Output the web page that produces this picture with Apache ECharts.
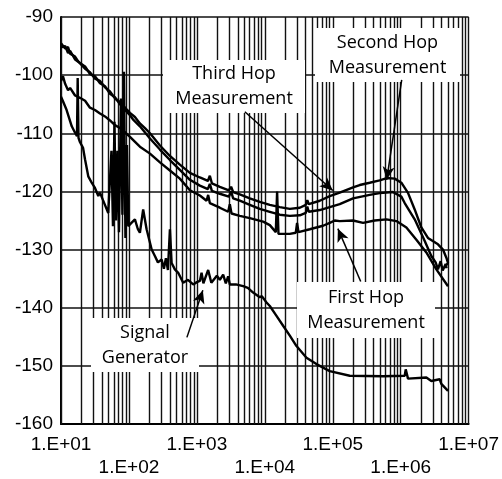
<!DOCTYPE html>
<html>
<head>
<meta charset="utf-8">
<script src="https://cdn.jsdelivr.net/npm/echarts@6/dist/echarts.min.js"></script>
<style>html,body{margin:0;padding:0;background:#fff;}#chart{width:502px;height:479px;}</style>
</head>
<body>
<div id="chart"></div>
<script>
// ---- data (frequency in Hz, level in dB) ----
const secondHopF = [10, 11.5, 12.7, 13.6, 16.1, 17.8, 19.0, 22.6, 26.7, 31.6, 37.5, 44.4, 52.6, 62.2, 73.8, 92.5, 103.5, 122.5, 145, 172, 204, 286, 401, 562, 789, 1107, 1452, 1552, 1663, 2178, 2955, 3190, 3420, 4286, 6013, 8437, 11850, 16630, 23330, 32740, 40090, 42170, 44360, 64400, 90320, 126700, 199000, 249400, 350000, 491000, 622000, 816000, 1023000, 1281000, 1607000, 2014000, 2520000, 3540000, 4190000, 4700000, 4970000, 4440000];
const secondHopV = [-94.5, -95.4, -95.2, -96.3, -96.8, -97.6, -97.3, -98.9, -99.5, -100.6, -101, -102.1, -102.8, -104, -104.6, -105.9, -106.5, -107.2, -108.3, -109.1, -110, -112.1, -113.9, -115.4, -116.8, -117.6, -118.2, -117.3, -118.6, -119.2, -119.8, -119.2, -120.1, -120.5, -121.2, -121.8, -122.3, -122.7, -123, -122.8, -122.3, -121.5, -122.2, -121.6, -120.8, -120.2, -119.3, -118.9, -118.5, -118.1, -117.7, -117.8, -118.5, -120.25, -123.1, -126.2, -128, -129.1, -130, -131.4, -132.3, -133];

const thirdHopF = [10, 11.5, 12.7, 13.6, 16.1, 19.0, 22.6, 26.7, 31.6, 37.5, 44.4, 52.6, 62.2, 73.8, 92.5, 103.5, 114.5, 145, 204, 286, 401, 562, 789, 1107, 1452, 1552, 1663, 2178, 2955, 3190, 3420, 4286, 6013, 8437, 11850, 16630, 23330, 32740, 40090, 42170, 44360, 64400, 90320, 126700, 199000, 350000, 491000, 762000, 1023000, 1146000, 1607000, 2250000, 2825000, 3270000, 3540000, 3870000, 4150000, 4590000, 4740000];
const thirdHopV = [-95.2, -95, -96.2, -95.8, -97.3, -97.9, -98.5, -99.8, -100.2, -101.4, -101.9, -103.2, -103.8, -105, -106.3, -106.9, -107.6, -108.8, -110.9, -112.8, -114.6, -116.3, -118, -119, -119.6, -118.7, -119.9, -120.4, -120.9, -120, -121.2, -121.6, -122.3, -123, -123.5, -124, -124.2, -124.1, -123.7, -122.6, -123.5, -123.2, -122.7, -122.2, -121.2, -120.6, -120.3, -120.1, -120.9, -122, -124.8, -128.5, -131.1, -132.2, -133.4, -132, -133.6, -132.5, -133.2];

const firstHopF = [10, 10.7, 11.5, 12.7, 13.6, 16.1, 19.0, 22.6, 26.7, 31.6, 37.5, 44.4, 52.6, 62.2, 73.8, 87.3, 103.5, 145, 204, 286, 401, 562, 789, 1107, 1389, 1466, 1552, 2178, 2886, 3055, 3236, 4286, 6013, 9443, 11850, 14520, 15170, 15890, 23330, 28580, 29860, 31310, 45900, 71950, 90320, 107000, 126700, 199000, 279300, 414800, 616600, 865000, 1213000, 1702000, 2386000, 3350000, 4970000];
const firstHopV = [-101, -100.2, -101.5, -102.6, -102.2, -103.5, -103.9, -104.4, -105.6, -106, -106.6, -107.1, -107.8, -108.6, -109.1, -109.8, -110.6, -112.3, -113.5, -115, -116.4, -117.8, -119.8, -120.7, -121.6, -120.6, -122, -122.8, -123.5, -122.2, -123.8, -124.2, -124.6, -125.2, -125.8, -127, -120, -127.3, -127.3, -127.1, -125.4, -127, -126.5, -125.9, -125.4, -125, -125.1, -125, -125.4, -125, -124.8, -125.1, -126.2, -128.3, -130.5, -133.4, -136.3];

const signalGenF = [10, 10.7, 12.1, 12.7, 14.4, 16.1, 17.2, 17.6, 18.1, 19.0, 21.1, 22.6, 25.2, 28.3, 31.6, 35.4, 37.5, 41.5, 44.4, 49.6, 52.6, 55.3, 58.2, 61.2, 64.4, 67.7, 71.3, 76.3, 80.2, 84.4, 88.8, 93.5, 97.8, 107, 122.5, 135.5, 145, 162, 182, 216, 241, 267, 303, 327, 350, 375, 401, 425, 474, 531, 629, 738, 883, 1000, 1107, 1172, 1247, 1355, 1466, 1552, 1633, 1738, 1968, 2178, 2437, 2667, 2886, 3055, 3750, 4797, 5623, 6730, 8437, 9036, 10590, 11850, 14860, 18590, 23330, 29250, 41050, 57540, 90320, 177800, 549500, 1146000, 1186000, 1281000, 2386000, 2825000, 3750000, 3966000, 4970000];
const signalGenV = [-103.7, -104.5, -106, -106.3, -108.8, -109.9, -110.5, -100.5, -110.8, -111.5, -112.5, -114.5, -117.4, -118.5, -119.4, -120.8, -120.2, -121.5, -121.4, -123.7, -124, -113, -126, -108, -125, -113, -127, -104, -124, -99.4, -128, -112, -126, -125.5, -124.8, -126.5, -127.1, -123.1, -126.5, -130, -131.1, -132.2, -131.7, -133.3, -131.5, -133.5, -126.5, -132.3, -133.4, -134, -135.7, -135.2, -136, -135.6, -135.4, -134, -135.8, -134.6, -133.5, -133.2, -135.7, -135.4, -134.5, -135.2, -134.3, -135.8, -134.6, -136, -136, -136.3, -136.6, -137.4, -138.2, -138, -139.1, -139.7, -141.4, -143.1, -144.8, -146.6, -148.6, -149.7, -150.9, -151.7, -151.8, -151.7, -150.6, -152.2, -152, -152.6, -152.3, -153.1, -154.3];

const xTickValues = [1e1, 1e2, 1e3, 1e4, 1e5, 1e6, 1e7];
const xTickLabels = ['1.E+01', '1.E+02', '1.E+03', '1.E+04', '1.E+05', '1.E+06', '1.E+07'];
const yMin = -160, yMax = -90, yStep = 10;

// annotations: label text, arrow tail [f, dB], arrow tip [f, dB]
const annotations = [
  { text: 'Third Hop\nMeasurement', tail: [5080, -106.3], tip: [1.0e5, -119.85] },
  { text: 'Second Hop\nMeasurement', tail: [1.035e6, -100.8], tip: [6.22e5, -118] },
  { text: 'First Hop\nMeasurement', tail: [2.58e5, -135.5], tip: [1.19e5, -126.4] },
  { text: 'Signal\nGenerator', tail: [713, -145.1], tip: [1225, -137] }
];
// label box layout (pixels)
const boxes = [
  { x: 163, y: 60, w: 142, h: 53 },
  { x: 315, y: 28, w: 145, h: 54 },
  { x: 297, y: 282, w: 138, h: 56 },
  { x: 91, y: 318, w: 108, h: 54 }
];

function zip(f, v) { const n = Math.min(f.length, v.length); const out = []; for (let i = 0; i < n; i++) out.push([f[i], v[i]]); return out; }

// vertical log grid lines (1..9 per decade)
const vLines = [];
for (let k = 1; k <= 6; k++) for (let m = 1; m <= 9; m++) vLines.push({ xAxis: m * Math.pow(10, k) });
vLines.push({ xAxis: 1e7 });

const chart = echarts.init(document.getElementById('chart'), null, { renderer: 'canvas' });

const curveStyle = { color: '#000', width: 2.4 };
function curve(name, f, v) {
  return { name, type: 'line', data: zip(f, v), showSymbol: false, symbol: 'none', z: 5, lineStyle: curveStyle, itemStyle: { color: '#000' }, animation: false, clip: true };
}

const option = {
  animation: false,
  backgroundColor: '#fff',
  grid: { left: 61, right: 33, top: 17, bottom: 54, containLabel: false },
  xAxis: {
    type: 'log', logBase: 10, min: 10, max: 1e7, splitNumber: 6,
    axisLine: { show: true, onZero: false, lineStyle: { color: '#000', width: 2 } },
    axisTick: { show: false },
    splitLine: { show: false },
    axisLabel: {
      show: true, margin: 9, color: '#000', fontSize: 19, lineHeight: 23,
      fontFamily: '"Liberation Sans", Arial, sans-serif',
      showMinLabel: true, showMaxLabel: true,
      formatter: function (val) {
        let idx = -1;
        for (let i = 0; i < xTickValues.length; i++) if (Math.abs(Math.log10(val) - Math.log10(xTickValues[i])) < 1e-6) idx = i;
        if (idx < 0) return '';
        return idx % 2 === 0 ? xTickLabels[idx] : '\n' + xTickLabels[idx];
      }
    }
  },
  yAxis: {
    type: 'value', min: yMin, max: yMax, interval: yStep,
    axisLine: { show: true, onZero: false, lineStyle: { color: '#000', width: 2 } },
    axisTick: { show: false },
    splitLine: { show: true, lineStyle: { color: '#111', width: 1.6 } },
    axisLabel: { margin: 8, color: '#000', fontSize: 19, fontFamily: '"Liberation Sans", Arial, sans-serif' }
  },
  series: [
    {
      name: 'grid', type: 'line', data: [], z: 1, silent: true,
      markLine: {
        silent: true, symbol: ['none', 'none'], z: 1, animation: false,
        label: { show: false },
        lineStyle: { color: '#111', width: 1.4, type: 'solid' },
        emphasis: { disabled: true },
        data: vLines
      }
    },
    curve('Second Hop', secondHopF, secondHopV),
    curve('Third Hop', thirdHopF, thirdHopV),
    curve('First Hop', firstHopF, firstHopV),
    curve('Signal Generator', signalGenF, signalGenV),
    {
      name: 'arrows', type: 'line', data: [], z: 6, silent: true,
      markLine: {
        silent: true, z: 6, animation: false,
        symbol: ['none', 'arrow'], symbolSize: [9, 13],
        label: { show: false },
        lineStyle: { color: '#000', width: 1.5, type: 'solid' },
        emphasis: { disabled: true },
        data: annotations.map(a => [{ coord: a.tail }, { coord: a.tip }])
      }
    }
  ],
  graphic: annotations.map((a, i) => ({
    type: 'group', z: 3,
    children: [
      { type: 'rect', z: 3, shape: { x: boxes[i].x, y: boxes[i].y, width: boxes[i].w, height: boxes[i].h }, style: { fill: '#fff' } },
      { type: 'text', z: 4, x: boxes[i].x + boxes[i].w / 2, y: boxes[i].y + boxes[i].h / 2,
        style: { text: a.text, fill: '#000', font: '18px "Open Sans"', align: 'center', verticalAlign: 'middle', lineHeight: 25 } }
    ]
  }))
};
chart.setOption(option);
</script>
</body>
</html>
